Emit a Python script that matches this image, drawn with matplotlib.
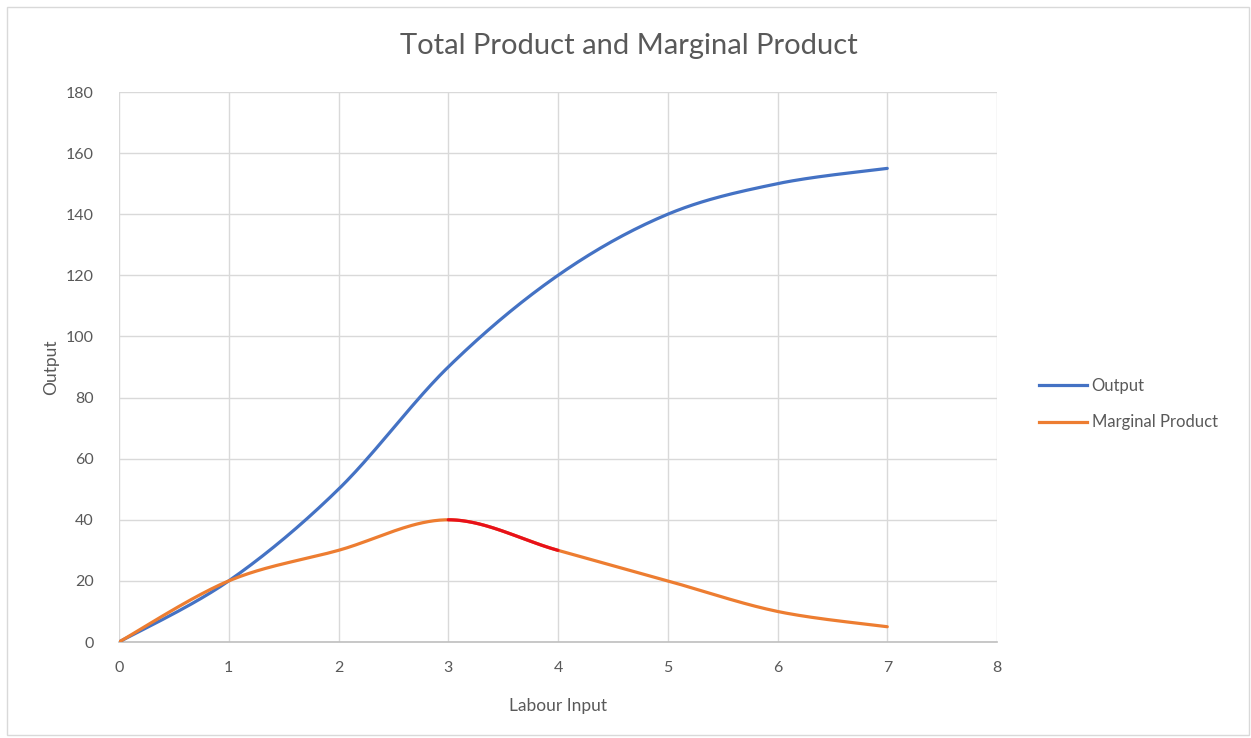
import numpy as np
import matplotlib
matplotlib.use("Agg")
import matplotlib.pyplot as plt
from matplotlib.patches import Rectangle
from matplotlib.lines import Line2D

labour = [0, 1, 2, 3, 4, 5, 6, 7]
output = [0, 20, 50, 90, 120, 140, 150, 155]
marginal = [0, 20, 30, 40, 30, 20, 10, 5]
highlight_range = (3, 4)  # MP segment drawn in red
x_ticks = [0, 1, 2, 3, 4, 5, 6, 7, 8]
y_ticks = [0, 20, 40, 60, 80, 100, 120, 140, 160, 180]

BLUE = "#4472C4"
ORANGE = "#ED7D31"
RED = "#E8101A"
TXT = "#595959"

plt.rcParams['font.family'] = ['Lato', 'DejaVu Sans']


def smooth(xs, ys, n=40):
    """Excel-style smoothed line (Catmull-Rom Bezier) through the data points."""
    xs = np.asarray(xs, float); ys = np.asarray(ys, float)
    P = np.column_stack([xs, ys])
    Pe = np.vstack([P[0], P, P[-1]])
    segs = []
    for i in range(len(P) - 1):
        p0, p1, p2, p3 = Pe[i], Pe[i + 1], Pe[i + 2], Pe[i + 3]
        c1 = p1 + (p2 - p0) / 6.0
        c2 = p2 - (p3 - p1) / 6.0
        t = np.linspace(0, 1, n)[:, None]
        seg = ((1 - t) ** 3) * p1 + 3 * ((1 - t) ** 2) * t * c1 + 3 * (1 - t) * t ** 2 * c2 + t ** 3 * p2
        segs.append(seg)
    return segs


fig = plt.figure(figsize=(12.51, 7.38), dpi=100)
fig.patches.append(Rectangle((7 / 1251, 3 / 738), (1251 - 9) / 1251, (738 - 10) / 738,
                             transform=fig.transFigure, fill=False, edgecolor="#D9D9D9", lw=1))
ax = fig.add_axes([119 / 1251, 1 - 642 / 738, (997 - 119) / 1251, (642 - 92) / 738])

segs_o = smooth(labour, output)
curve_o = np.vstack(segs_o)
ax.plot(curve_o[:, 0], curve_o[:, 1], color=BLUE, lw=2.3, solid_capstyle="round", zorder=3)

segs_m = smooth(labour, marginal)
curve_m = np.vstack(segs_m)
ax.plot(curve_m[:, 0], curve_m[:, 1], color=ORANGE, lw=2.3, solid_capstyle="round", zorder=3)
hi = labour.index(highlight_range[0])
ax.plot(segs_m[hi][:, 0], segs_m[hi][:, 1], color=RED, lw=2.3, solid_capstyle="round", zorder=4)

ax.set_xlim(0, 8)
ax.set_ylim(0, 180)
ax.set_xticks(x_ticks)
ax.set_yticks(y_ticks)
ax.grid(True, color="#D9D9D9", lw=1)
ax.set_axisbelow(True)
for s in ["top", "right", "left"]:
    ax.spines[s].set_visible(False)
ax.spines["bottom"].set_color("#BFBFBF")
ax.spines["bottom"].set_linewidth(1.2)
ax.tick_params(length=0, labelsize=11.5, colors=TXT)
ax.tick_params(axis="x", pad=14)
ax.tick_params(axis="y", pad=18)
ax.set_xlabel("Labour Input", fontsize=12.5, color=TXT, labelpad=16)
ax.set_ylabel("Output", fontsize=12.5, color=TXT, labelpad=5)
fig.text(629 / 1251, 1 - 46 / 738, "Total Product and Marginal Product", ha="center", va="center",
         fontsize=21, color=TXT)

handles = [Line2D([], [], color=BLUE, lw=2.3), Line2D([], [], color=ORANGE, lw=2.3)]
leg = fig.legend(handles, ["Output", "Marginal Product"], loc="center left",
                 bbox_to_anchor=(1024 / 1251, 1 - 404 / 738), frameon=False, fontsize=12,
                 handlelength=2.9, handletextpad=0.25, labelspacing=1.25, labelcolor=TXT)

fig.savefig("out.png", dpi=100, facecolor="white")
